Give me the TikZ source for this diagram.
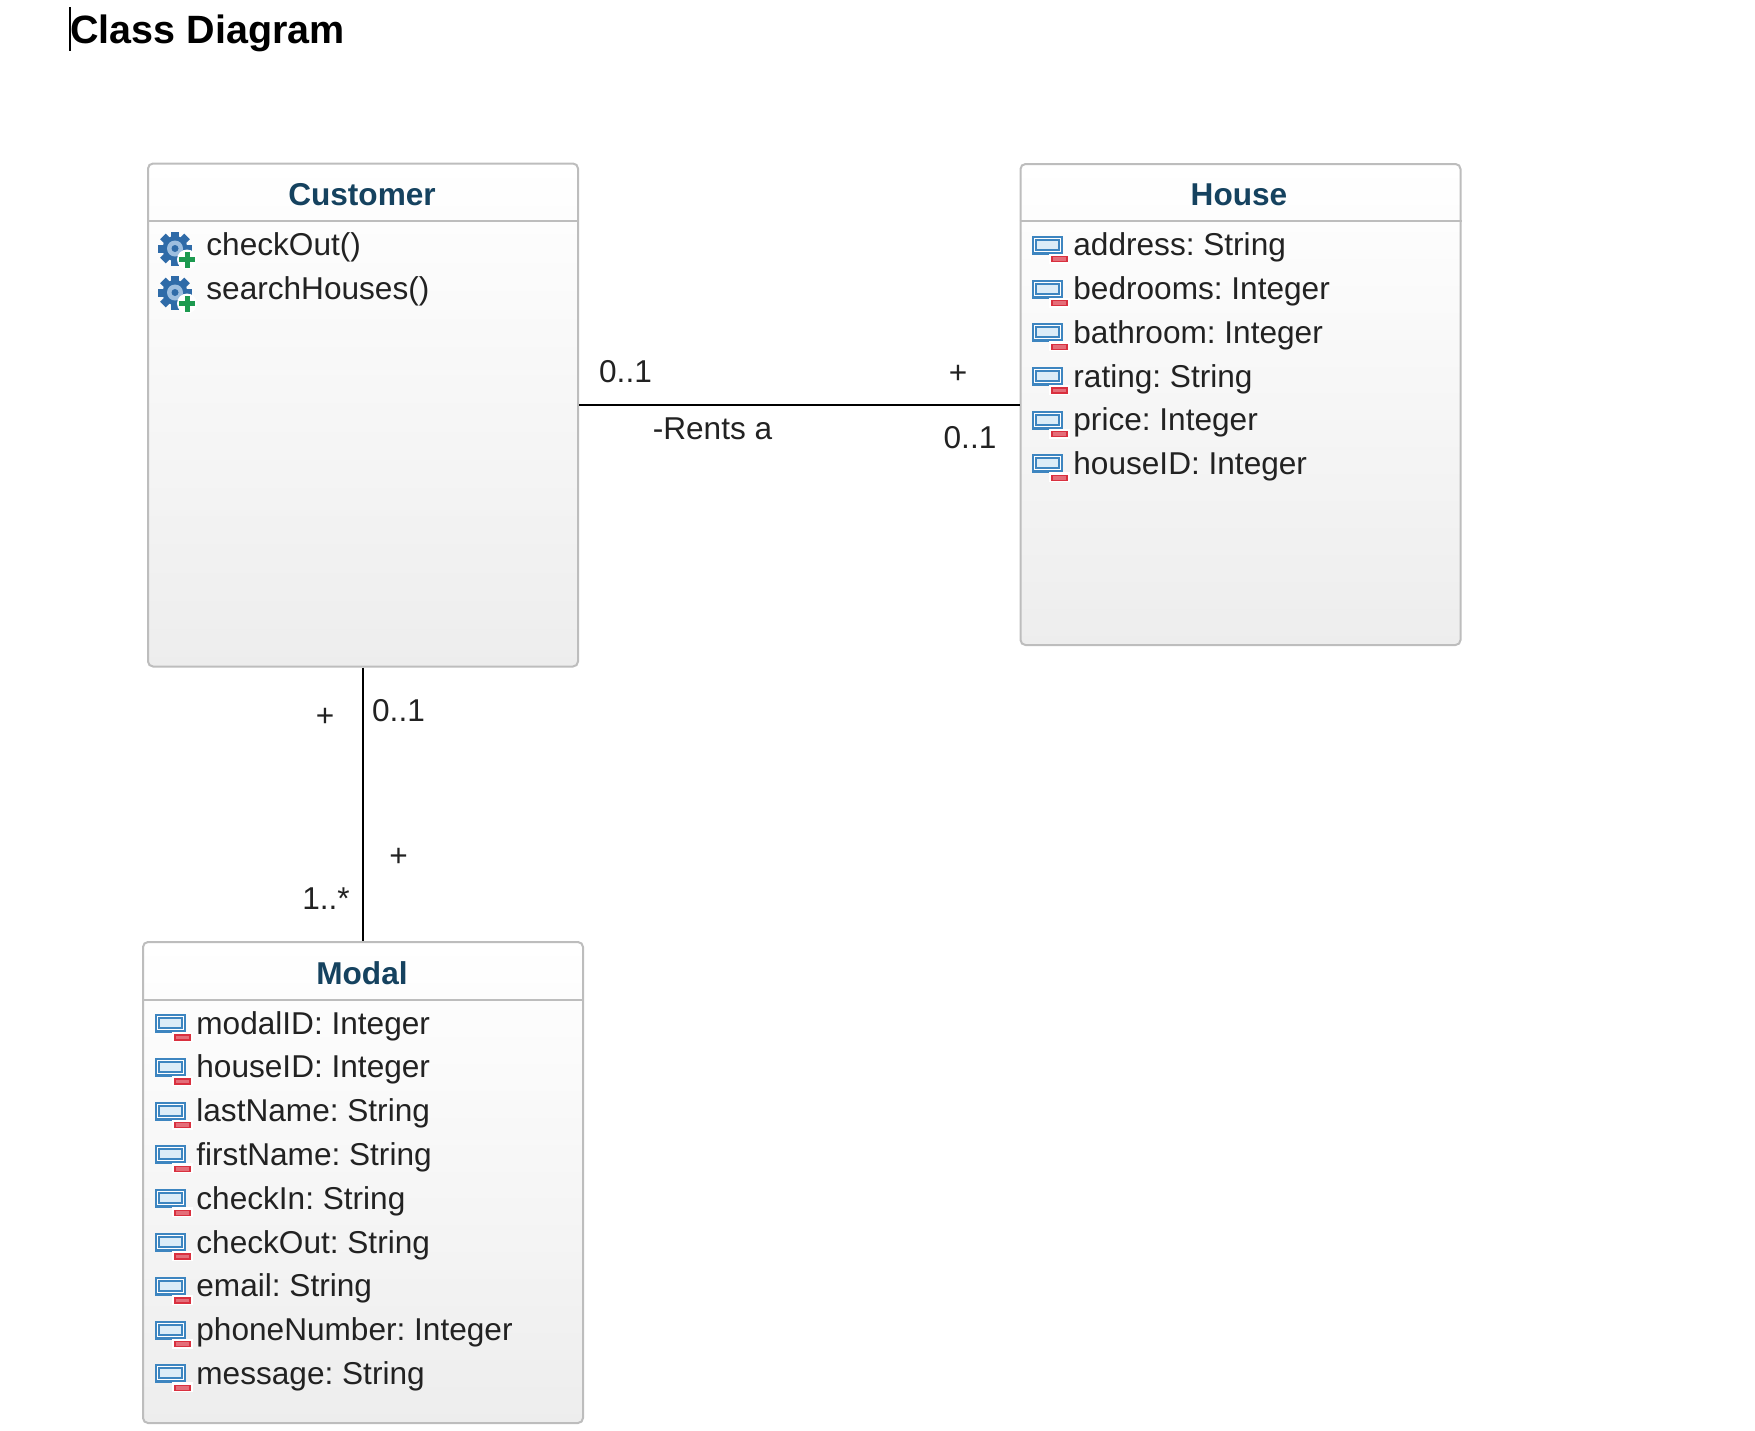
\documentclass[tikz,border=0pt]{standalone}
\usepackage{fontspec}
\setmainfont{Liberation Sans}
\frenchspacing

\definecolor{classborder}{HTML}{BDBDBD}
\definecolor{classtitle}{HTML}{15425F}
\definecolor{rowink}{HTML}{222222}
\definecolor{attrblue}{HTML}{3D85C0}
\definecolor{attrlight}{HTML}{DCECF7}
\definecolor{minusred}{HTML}{D9303F}
\definecolor{gearblue}{HTML}{2F6BA8}
\definecolor{gearlight}{HTML}{9DBEDF}
\definecolor{plusgreen}{HTML}{1D9A50}

\tikzset{
	classbox/.style={shape=rectangle,draw=classborder,line width=1pt,rounded corners=2.5pt,top color=white,bottom color=black!7},
	classname/.style={anchor=base,inner sep=0pt,text=classtitle,font=\fontsize{15.8}{18}\selectfont\bfseries},
	rowtext/.style={anchor=base west,inner sep=0pt,text=rowink,font=\fontsize{15.8}{18}\selectfont},
	endlabel/.style={inner sep=0pt,text=rowink,font=\fontsize{15.8}{18}\selectfont},
	divider/.style={draw=classborder,line width=1pt},
	assoc/.style={draw=black,line width=1pt},
	attricon/.pic={
		\fill[attrblue] (-41,-20) rectangle (-10,-1);
		\fill[white] (-39,-18) rectangle (-12,-4);
		\draw[attrblue,line width=1pt,fill=attrlight] (-37,-16) rectangle (-14,-6);
		\fill[white] (-24,-2) rectangle (-3,8);
		\draw[minusred,line width=0.7pt,fill=minusred!70] (-21,1) rectangle (-6,6);
	},
	opericon/.pic={
		\foreach \a in {0,45,...,315}
			\fill[gearblue,rotate around={\a:(-31,-7)}] (-35,-24) rectangle (-27,-15);
		\fill[gearblue] (-31,-7) circle (12.5);
		\fill[gearlight] (-31,-7) circle (8);
		\fill[gearblue] (-31,-7) circle (3.5);
		\fill[white] (-19,4) circle (10);
		\fill[plusgreen] (-27,1.5) rectangle (-11,6.5);
		\fill[plusgreen] (-21.5,-4) rectangle (-16.5,12);
	},
}

\begin{document}
\begin{tikzpicture}[x=0.5pt,y=-0.5pt]
	\useasboundingbox (0,0) rectangle (1755,1430);
	
	\node[anchor=base west,inner sep=0pt,text=black,font=\fontsize{19.75}{22}\selectfont\bfseries] (title) at (70,43) {Class Diagram};
	\draw[black,line width=1pt] (70,7) -- (70,51);
	
	\node[classbox,minimum width=215pt,minimum height=251.5pt] (customer) at (363,415) {};
	\node[classbox,minimum width=220pt,minimum height=240.5pt] (house)    at (1240.5,404.5) {};
	\node[classbox,minimum width=220pt,minimum height=240.5pt] (modal)    at (363,1182.5) {};
	
	\draw[divider] (customer.west |- 0,220.5) -- (customer.east |- 0,220.5);
	\draw[divider] (house.west |- 0,220.5)    -- (house.east |- 0,220.5);
	\draw[divider] (modal.west |- 0,999.5)    -- (modal.east |- 0,999.5);
	
	\node[classname] (customername) at (362,205)  {Customer};
	\node[classname] (housename)    at (1239,205) {House};
	\node[classname] (modalname)    at (362,984)  {Modal};
	
	\node[rowtext] (c1) at (206,255.5) {checkOut()};     \pic at (c1.base west) {opericon};
	\node[rowtext] (c2) at (206,299.5) {searchHouses()}; \pic at (c2.base west) {opericon};
	
	\node[rowtext] (h1) at (1073,255.5) {address: String};    \pic at (h1.base west) {attricon};
	\node[rowtext] (h2) at (1073,299.5) {bedrooms: Integer};  \pic at (h2.base west) {attricon};
	\node[rowtext] (h3) at (1073,343.3) {bathroom: Integer};  \pic at (h3.base west) {attricon};
	\node[rowtext] (h4) at (1073,387)   {rating: String};     \pic at (h4.base west) {attricon};
	\node[rowtext] (h5) at (1073,430.7) {price: Integer};     \pic at (h5.base west) {attricon};
	\node[rowtext] (h6) at (1073,474.4) {houseID: Integer};   \pic at (h6.base west) {attricon};
	
	\node[rowtext] (m1) at (196,1034)   {modalID: Integer};      \pic at (m1.base west) {attricon};
	\node[rowtext] (m2) at (196,1077.8) {houseID: Integer};      \pic at (m2.base west) {attricon};
	\node[rowtext] (m3) at (196,1121.6) {lastName: String};      \pic at (m3.base west) {attricon};
	\node[rowtext] (m4) at (196,1165.4) {firstName: String};     \pic at (m4.base west) {attricon};
	\node[rowtext] (m5) at (196,1209.2) {checkIn: String};       \pic at (m5.base west) {attricon};
	\node[rowtext] (m6) at (196,1253)   {checkOut: String};      \pic at (m6.base west) {attricon};
	\node[rowtext] (m7) at (196,1296.8) {email: String};         \pic at (m7.base west) {attricon};
	\node[rowtext] (m8) at (196,1340.6) {phoneNumber: Integer};  \pic at (m8.base west) {attricon};
	\node[rowtext] (m9) at (196,1384.4) {message: String};       \pic at (m9.base west) {attricon};
	
	\coordinate (rentsleft)  at (customer.east |- 0,404.5);
	\coordinate (rentsright) at (house.west |- 0,404.5);
	\path[assoc] (rentsleft) -- (rentsright);
	\path[assoc] (customer.south) -- (modal.north);
	
	\node[endlabel] (rentsname)  at (712.5,429) {-Rents a};
	\node[endlabel] (custmult)   at (625.5,372) {0..1};
	\node[endlabel] (custplus)   at (958,374) {+};
	\node[endlabel] (housemult)  at (970,437.5) {0..1};
	\node[endlabel] (upperplus)  at (325,717) {+};
	\node[endlabel] (uppermult)  at (398.5,711) {0..1};
	\node[endlabel] (lowerplus)  at (398.5,857) {+};
	\node[endlabel] (lowermult)  at (326,898.5) {1..*};
	
\end{tikzpicture}
\end{document}
